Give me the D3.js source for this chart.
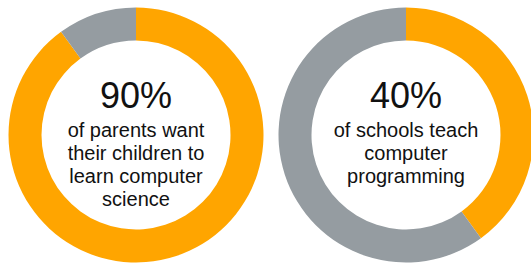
<!DOCTYPE html>
<html>
<head>
<meta charset="utf-8">
<script src="https://cdn.jsdelivr.net/npm/d3@7"></script>
<style>
  body { margin: 0; background: #fff; }
  text { font-family: "Liberation Sans", Arial, sans-serif; fill: #111; }
</style>
</head>
<body>
<div id="viz"></div>
<script>
// dimensions of the svg
const width = 531
const height = 266

// data
const percents = [90, 40];
const bigLabels = ["90%", "40%"];
const captions = [
  ["of parents want", "their children to", "learn computer", "science"],
  ["of schools teach", "computer", "programming"]
];
const parts = ["yes", "no"];

// layout of each donut
const centers = [{x: 136, y: 135}, {x: 406, y: 135}];
const outerR = 127.5;
const innerR = 94.5;

const colors = d3.scaleOrdinal().domain(parts).range(["#ffa500", "#959ca1"]);

var svg = d3.select("#viz")
        .append("svg")
        .attr("width", width)
        .attr("height", height);

const pie = d3.pie().sort(null).value(function(d) {return d.v});
const arc = d3.arc().innerRadius(innerR).outerRadius(outerR);

percents.forEach(function(p, i) {
    var g = svg.append("g")
        .attr("transform", "translate(" + centers[i].x + "," + centers[i].y + ")");

    var slices = pie([{k: "yes", v: p}, {k: "no", v: 100 - p}]);

    g.selectAll("path")
        .data(slices)
        .enter()
        .append("path")
        .attr("d", arc)
        .attr("fill", function(d) {return colors(d.data.k)});

    // big number
    g.append("text")
        .attr("text-anchor", "middle")
        .attr("y", -27)
        .attr("font-size", 36)
        .text(bigLabels[i]);

    // caption lines
    g.selectAll("text.cap")
        .data(captions[i])
        .enter()
        .append("text")
        .attr("class", "cap")
        .attr("text-anchor", "middle")
        .attr("y", function(d, j) {return 2 + j * 23})
        .attr("font-size", 20)
        .text(function(d) {return d});
});
</script>
</body>
</html>
